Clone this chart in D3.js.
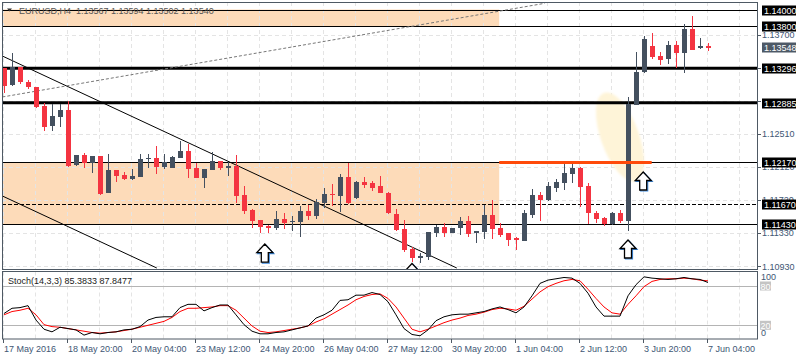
<!DOCTYPE html>
<html><head><meta charset="utf-8">
<script src="https://cdn.jsdelivr.net/npm/d3@7"></script>
<style>
body{margin:0;background:#fff}
svg{display:block}
text{font-family:"Liberation Sans",Arial,sans-serif;font-size:9px}
</style>
</head><body>
<svg id="c" width="800" height="360"></svg>
<script>
// ---------------- DATA ----------------
const opens = [1.13296,1.13096,1.13308,1.13136,1.13069,1.12849,1.12609,1.12717,1.12797,1.12139,
1.12255,1.12159,1.12246,1.11807,1.12079,1.12019,1.11975,1.11999,1.12207,1.12226,
1.12111,1.12106,1.12226,1.12306,1.12103,1.11987,1.12079,1.12187,1.12106,1.12127,
1.11779,1.11600,1.11480,1.11408,1.11381,1.11489,1.11456,1.11460,1.11588,1.11528,
1.11687,1.11792,1.11768,1.11991,1.11744,1.11939,1.11920,1.11887,1.11807,1.11552,
1.11369,1.11130,1.11022,1.11041,1.11328,1.11393,1.11328,1.11381,1.11472,1.11328,
1.11340,1.11537,1.11388,1.11321,1.11262,1.11233,1.11537,1.11780,1.11720,1.11860,
1.11927,1.12031,1.12099,1.11887,1.11560,1.11501,1.11429,1.11568,1.11472,1.12853,
1.13255,1.13563,1.13443,1.13404,1.13575,1.13476,1.13763,1.13536,1.13567];
const highs = [1.13300,1.13483,1.13312,1.13156,1.13076,1.12877,1.12869,1.12869,1.12905,1.12258,
1.12286,1.12246,1.12246,1.12270,1.12079,1.12055,1.12087,1.12267,1.12270,1.12366,
1.12270,1.12245,1.12426,1.12390,1.12166,1.12091,1.12294,1.12187,1.12178,1.12258,
1.11887,1.11612,1.11480,1.11420,1.11588,1.11560,1.11528,1.11648,1.11660,1.11728,
1.11860,1.11908,1.12031,1.12159,1.11951,1.11991,1.11951,1.12007,1.11819,1.11608,
1.11480,1.11161,1.11082,1.11341,1.11420,1.11441,1.11385,1.11513,1.11528,1.11352,
1.11660,1.11720,1.11441,1.11325,1.11281,1.11600,1.11848,1.11812,1.11935,1.11967,
1.12159,1.12190,1.12118,1.11920,1.11592,1.11520,1.11580,1.11600,1.12956,1.13495,
1.13683,1.13715,1.13495,1.13623,1.13623,1.13826,1.13922,1.13655,1.13594];
const lows = [1.12997,1.13088,1.13105,1.13048,1.12825,1.12549,1.12549,1.12590,1.12118,1.12130,
1.12106,1.12046,1.11780,1.11800,1.11939,1.11959,1.11959,1.11991,1.12099,1.12031,
1.12087,1.12103,1.12222,1.11987,1.11987,1.11867,1.12079,1.12079,1.12007,1.11680,
1.11552,1.11385,1.11321,1.11325,1.11361,1.11369,1.11352,1.11280,1.11480,1.11489,
1.11620,1.11648,1.11580,1.11672,1.11735,1.11860,1.11831,1.11800,1.11552,1.11352,
1.11101,1.10981,1.10969,1.11002,1.11280,1.11273,1.11325,1.11301,1.11280,1.11209,
1.11253,1.11253,1.11280,1.11170,1.11121,1.11225,1.11508,1.11472,1.11711,1.11819,
1.11839,1.11920,1.11640,1.11432,1.11448,1.11408,1.11420,1.11448,1.11352,1.12853,
1.13243,1.13404,1.13336,1.13344,1.13296,1.13243,1.13515,1.13524,1.13502];
const closes = [1.13088,1.13308,1.13129,1.13069,1.12837,1.12597,1.12725,1.12797,1.12130,1.12258,
1.12159,1.12246,1.11792,1.12079,1.12011,1.11975,1.12011,1.12210,1.12226,1.12118,
1.12175,1.12234,1.12306,1.12094,1.11987,1.12091,1.12187,1.12106,1.12130,1.11771,
1.11588,1.11468,1.11393,1.11381,1.11489,1.11448,1.11468,1.11588,1.11528,1.11699,
1.11792,1.11776,1.11999,1.11680,1.11939,1.11899,1.11867,1.11800,1.11560,1.11361,
1.11121,1.11022,1.11049,1.11333,1.11393,1.11328,1.11381,1.11472,1.11309,1.11352,
1.11537,1.11373,1.11301,1.11240,1.11238,1.11561,1.11780,1.11720,1.11887,1.11939,
1.12046,1.12099,1.11879,1.11560,1.11492,1.11429,1.11560,1.11472,1.12869,1.13255,
1.13643,1.13428,1.13396,1.13575,1.13476,1.13763,1.13515,1.13563,1.13540];

const stochK = [38,46,47,50,28,14,10,17,15,13, 5,9,7,9,10,13,14,18,28,32,
33,33,47,52,52,42,47,51,51,36, 21,11,7,7,9,10,13,16,19,31,
36,43,58,59,66,66,70,67,56,36, 15,6,4,13,27,33,36,37,37,39,
41,45,48,44,39,48,65,84,89,91, 93,92,84,69,48,34,34,34,65,82,
94,92,91,90,91,93,91,90,85.3833];
const stochD = [36,41,43,46,36,21,18,17,15,13, 11,9,8,9,10,12,14,17,20,23,
26,32,41,46,46,47,48,50,50,43, 31,19,11,9,10,12,14,16,19,25,
30,37,44,51,59,64,67,68,61,48, 31,14,10,14,19,24,28,31,35,37,
40,44,46,45,43,49,60,71,79,84, 88,90,88,75,61,48,39,37,52,65,
79,87,90,91,91,92,91,89,87.8477];

const timeLabels = ["17 May 2016","18 May 20:00","20 May 04:00","23 May 12:00","24 May 20:00",
"26 May 04:00","27 May 12:00","30 May 20:00","1 Jun 04:00","2 Jun 12:00","3 Jun 20:00","7 Jun 04:00"];
const priceTicks = [1.13700,1.13300,1.12910,1.12510,1.12120,1.11720,1.11330,1.10930];
const thinLevels = [1.14000,1.13800,1.12170,1.11430];
const thickLevels = [1.13296,1.12885];
const dashedLevels = [1.11670];
const zones = [[1.14000,1.13800],[1.12170,1.11430]];
const zoneEndBar = 61.9;
const orangeSeg = {from:61.9, to:80.96, price:1.12170};
const trendLines = [[-0.2,1.13443,56.6,1.10906],[-0.2,1.11768,19.1,1.10906]];
const dottedTrend = [-0.2,1.12953,67.6,1.14074];
const arrowsAt = [[32.6,1.11193],[51.0,1.10960],[78.0,1.11241],[79.9,1.12055]];
const ellipseAt = [77.0,1.12474];
const currentPrice = 1.13548;
const lastOHLC = ["1.13567","1.13594","1.13502","1.13540"];
const stochVals = ["85.3833","87.8477"];

// ---------------- SCALES ----------------
const svg = d3.select("#c");
const x = d3.scaleLinear().domain([0, 88]).range([4, 708]);
const y = d3.scaleLinear().domain([1.1093, 1.14]).range([266, 9.5]);
const ys = d3.scaleLinear().domain([0, 100]).range([338.4, 272.9]);
const L = 2, R = 757, T = 2, B = 269, ST = 271.5, SB = 339;
const axisCol = "#3e5674", frameCol = "#4e5964", gridCol = "#e4e4e4";
const bull = "#44505f", bear = "#f43441";

const defs = svg.append("defs");
defs.append("clipPath").attr("id","cm").append("rect").attr("x",L+0.5).attr("y",T+0.5).attr("width",R-L-0.5).attr("height",B-T-0.5);
defs.append("clipPath").attr("id","cs").append("rect").attr("x",L+0.5).attr("y",ST+0.5).attr("width",R-L-0.5).attr("height",SB-ST-0.5);
defs.append("filter").attr("id","soft").append("feGaussianBlur").attr("stdDeviation",1.2);

svg.append("rect").attr("width",800).attr("height",360).attr("fill","#fff");
const main = svg.append("g").attr("clip-path","url(#cm)");
const stoch = svg.append("g").attr("clip-path","url(#cs)");

// zones
main.selectAll(".zone").data(zones).join("rect")
  .attr("x", L).attr("width", x(zoneEndBar) - L)
  .attr("y", d => y(d[0])).attr("height", d => y(d[1]) - y(d[0]))
  .attr("fill", "#fddbb9");

// grid
const vgrid = d3.range(0, 96, 4);
main.selectAll(".vg").data(vgrid).join("line")
  .attr("x1", d => Math.round(x(d)) - 0.5).attr("x2", d => Math.round(x(d)) - 0.5)
  .attr("y1", T).attr("y2", B).attr("stroke", gridCol).attr("stroke-dasharray","4,3");
stoch.selectAll(".vg").data(vgrid).join("line")
  .attr("x1", d => Math.round(x(d)) - 0.5).attr("x2", d => Math.round(x(d)) - 0.5)
  .attr("y1", ST).attr("y2", SB).attr("stroke", gridCol).attr("stroke-dasharray","4,3");
main.selectAll(".hg").data(priceTicks).join("line")
  .attr("x1", L).attr("x2", R)
  .attr("y1", d => Math.round(y(d)) + 0.5).attr("y2", d => Math.round(y(d)) + 0.5)
  .attr("stroke", gridCol).attr("stroke-dasharray","4,3");

// ellipse highlight
main.append("ellipse")
  .attr("cx", x(ellipseAt[0])).attr("cy", y(ellipseAt[1]))
  .attr("rx", 19).attr("ry", 47)
  .attr("transform", `rotate(-20 ${x(ellipseAt[0])} ${y(ellipseAt[1])})`)
  .attr("fill", "#fef4d8").attr("filter","url(#soft)");

// level lines
main.selectAll(".thin").data(thinLevels).join("line")
  .attr("x1", L).attr("x2", R)
  .attr("y1", d => Math.round(y(d)) + 0.5).attr("y2", d => Math.round(y(d)) + 0.5)
  .attr("stroke", "#000").attr("stroke-width", 1);
main.selectAll(".thick").data(thickLevels).join("line")
  .attr("x1", L).attr("x2", R)
  .attr("y1", d => y(d)).attr("y2", d => y(d))
  .attr("stroke", "#000").attr("stroke-width", 3);
main.selectAll(".dash").data(dashedLevels).join("line")
  .attr("x1", L).attr("x2", R)
  .attr("y1", d => Math.round(y(d)) + 0.5).attr("y2", d => Math.round(y(d)) + 0.5)
  .attr("stroke", "#000").attr("stroke-dasharray","4,2");

// trend lines
main.selectAll(".tl").data(trendLines).join("line")
  .attr("x1", d => x(d[0])).attr("y1", d => y(d[1]))
  .attr("x2", d => x(d[2])).attr("y2", d => y(d[3]))
  .attr("stroke", "#000").attr("stroke-width", 1);
main.append("line")
  .attr("x1", x(dottedTrend[0])).attr("y1", y(dottedTrend[1]))
  .attr("x2", x(dottedTrend[2])).attr("y2", y(dottedTrend[3]))
  .attr("stroke", "#777").attr("stroke-dasharray","3,2");

// candles
const idx = d3.range(opens.length);
const cg = main.append("g").attr("shape-rendering","crispEdges");
cg.selectAll(".wick").data(idx).join("line")
  .attr("x1", i => x(i) + 0.5).attr("x2", i => x(i) + 0.5)
  .attr("y1", i => y(highs[i])).attr("y2", i => y(lows[i]))
  .attr("stroke", i => closes[i] >= opens[i] ? bull : bear);
cg.selectAll(".body").data(idx).join("rect")
  .attr("x", i => x(i) - 2).attr("width", 5)
  .attr("y", i => y(Math.max(opens[i], closes[i])))
  .attr("height", i => Math.max(1, Math.abs(y(opens[i]) - y(closes[i]))))
  .attr("fill", i => closes[i] >= opens[i] ? bull : bear);

// orange segment
main.append("line")
  .attr("x1", x(orangeSeg.from)).attr("x2", x(orangeSeg.to))
  .attr("y1", y(orangeSeg.price)).attr("y2", y(orangeSeg.price))
  .attr("stroke", "#ff4a0a").attr("stroke-width", 3);

// arrows
const arrowPath = (cx, t) => `M${cx},${t} L${cx+8},${t+8.5} L${cx+3.5},${t+8.5} L${cx+3.5},${t+18} L${cx-3.5},${t+18} L${cx-3.5},${t+8.5} L${cx-8},${t+8.5} Z`;
main.selectAll(".arb").data(arrowsAt).join("path")
  .attr("d", d => arrowPath(x(d[0]) + 1, y(d[1]) + 1))
  .attr("fill", "none").attr("stroke", "#3d8be0").attr("stroke-width", 1.2);
main.selectAll(".ar").data(arrowsAt).join("path")
  .attr("d", d => arrowPath(x(d[0]), y(d[1])))
  .attr("fill", "#fff").attr("stroke", "#000").attr("stroke-width", 1.3);

// stochastic
stoch.append("line").attr("x1", L).attr("x2", R).attr("y1", Math.round(ys(80)) + 0.5).attr("y2", Math.round(ys(80)) + 0.5).attr("stroke", "#b4b4b4");
stoch.append("line").attr("x1", L).attr("x2", R).attr("y1", Math.round(ys(20)) + 0.5).attr("y2", Math.round(ys(20)) + 0.5).attr("stroke", "#b4b4b4");
const lineK = d3.line().x((d, i) => x(i)).y(d => ys(d));
stoch.append("path").attr("d", lineK(stochD)).attr("fill", "none").attr("stroke", "#ff0000").attr("stroke-width", 1);
stoch.append("path").attr("d", lineK(stochK)).attr("fill", "none").attr("stroke", "#000").attr("stroke-width", 1);

// frames
svg.append("rect").attr("x", L + 0.5).attr("y", T + 0.5).attr("width", R - L).attr("height", B - T)
  .attr("fill", "none").attr("stroke", frameCol);
svg.append("rect").attr("x", L + 0.5).attr("y", ST).attr("width", R - L).attr("height", SB - ST)
  .attr("fill", "none").attr("stroke", frameCol);

// price axis
const boxLevels = thinLevels.concat(thickLevels, dashedLevels);
const pa = svg.append("g");
pa.selectAll(".tk").data(priceTicks).join("line")
  .attr("x1", R + 0.5).attr("x2", R + 4)
  .attr("y1", d => Math.round(y(d)) + 0.5).attr("y2", d => Math.round(y(d)) + 0.5)
  .attr("stroke", frameCol);
// tick labels fully covered by a level box are not visible in the reference
const visibleTicks = priceTicks.filter(p => boxLevels.every(b => Math.abs(y(b) - y(p)) > 3));
pa.selectAll(".tt").data(visibleTicks).join("text")
  .attr("x", 762).attr("y", d => y(d) + 3.5)
  .attr("fill", axisCol).text(d => d.toFixed(5));
const boxes = pa.selectAll(".bx").data(boxLevels.concat([currentPrice])).join("g");
boxes.append("rect").attr("x", 762).attr("width", 34).attr("height", 10)
  .attr("y", d => Math.round(y(d)) - 4.5)
  .attr("fill", d => d === currentPrice ? "#4d5966" : "#000");
boxes.append("text").attr("x", 764).attr("y", d => Math.round(y(d)) + 3.8)
  .attr("fill", "#fff").text(d => d.toFixed(5));

// stoch axis
const sa = svg.append("g");
sa.append("text").attr("x", 761).attr("y", 280).attr("fill", axisCol).text("100");
sa.append("text").attr("x", 761).attr("y", 336).attr("fill", axisCol).text("0");
[80, 20].forEach(v => {
  sa.append("rect").attr("x", 760).attr("y", ys(v) - 4.5).attr("width", 11).attr("height", 9).attr("fill", "#c4c4c4");
  sa.append("text").attr("x", 760.5).attr("y", ys(v) + 3.5).attr("fill", "#fff").text(v);
});
sa.append("text").attr("x", 8).attr("y", 284).attr("fill", "#222")
  .text(`Stoch(14,3,3) ${stochVals[0]} ${stochVals[1]}`);

// time axis
const tg = svg.append("g");
const tIdx = timeLabels.map((d, k) => k * 8);
tg.selectAll(".tt").data(tIdx).join("line")
  .attr("x1", i => Math.round(x(i)) - 0.5).attr("x2", i => Math.round(x(i)) - 0.5)
  .attr("y1", SB).attr("y2", SB + 4).attr("stroke", frameCol);
tg.selectAll(".tl").data(tIdx).join("text")
  .attr("x", i => x(i)).attr("y", 352)
  .attr("fill", axisCol).text((i, k) => timeLabels[k]);

// title
svg.append("path").attr("d", "M7,8.5 L12,8.5 L9.5,11.5 Z").attr("fill", "#333");
svg.append("text").attr("x", 19).attr("y", 13.5).attr("fill", "#555")
  .attr("xml:space","preserve")
  .text(`EURUSD,H4  ${lastOHLC.join(" ")}`);
</script>
</body></html>
